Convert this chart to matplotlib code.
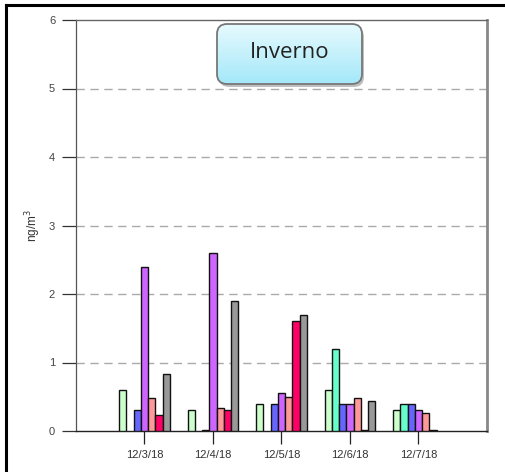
import matplotlib
matplotlib.use('Agg')
import matplotlib.pyplot as plt
from matplotlib.patches import FancyBboxPatch
from matplotlib.lines import Line2D
import numpy as np

plt.rcParams['font.family'] = 'Liberation Sans'

W, H = 506, 472

dates = ['12/3/18', '12/4/18', '12/5/18', '12/6/18', '12/7/18']
nan = np.nan
# one list per series (no legend in the original)
s_lightgreen = [0.6, 0.3, 0.4, 0.6, 0.3]
s_aqua = [nan, nan, nan, 1.2, 0.4]
s_blue = [0.3, 0.01, 0.4, 0.4, 0.4]
s_purple = [2.4, 2.6, 0.55, 0.4, 0.3]
s_salmon = [0.48, 0.33, 0.5, 0.48, 0.26]
s_crimson = [0.23, 0.3, 1.6, 0.01, 0.01]
s_gray = [0.83, 1.9, 1.7, 0.44, nan]

series = [s_lightgreen, s_aqua, s_blue, s_purple, s_salmon, s_crimson, s_gray]
colors = ['#ccffcc', '#66ffcc', '#6666ff', '#cc66ff', '#ff9999', '#ff0066', '#999999']

fig = plt.figure(figsize=(W / 100, H / 100), dpi=100)
ax = fig.add_axes([76 / W, 1 - 431 / H, 411 / W, 411 / H])

x = np.arange(1, len(dates) + 1)
bw = 0.106
for i, (vals, c) in enumerate(zip(series, colors)):
    ax.bar(x + (i - 3) * bw, vals, width=bw, color=c, edgecolor='#111111',
           linewidth=1.0, zorder=3)

ax.set_xlim(0, 6)
ax.set_ylim(0, 6)
ax.set_xticks(x)
ax.set_xticklabels(dates, fontsize=8, color='#333333')
ax.set_yticks(range(7))
ax.set_yticklabels([str(v) for v in range(7)], fontsize=8, color='#444444')
ax.tick_params(axis='y', length=10, width=0.9, color='#333333', pad=5)
ax.tick_params(axis='x', length=9.5, width=0.9, color='#222222', pad=4)

for v in range(1, 6):
    ax.axhline(v, color='#aaaaaa', linestyle=(0, (6, 4)), linewidth=1.0, zorder=1)

ax.spines['left'].set_color('#555555')
ax.spines['left'].set_linewidth(0.9)
ax.spines['bottom'].set_color('#222222')
ax.spines['bottom'].set_linewidth(1.0)
ax.spines['top'].set_color('#666666')
ax.spines['top'].set_linewidth(1.0)
ax.spines['right'].set_color('#888888')
ax.spines['right'].set_linewidth(2.0)

ax.set_ylabel('ng/m$^3$', fontsize=8.5, color='#333333')
ax.yaxis.set_label_coords(-0.08, 0.5)

# title box with gradient fill
bx = fig.add_axes([217 / W, 1 - 84 / H, 145 / W, 60 / H])
bx.set_xlim(0, 145)
bx.set_ylim(0, 60)
bx.axis('off')
shadow = FancyBboxPatch((2, -3), 145, 60, boxstyle='round,pad=0,rounding_size=10',
                        facecolor='#000000', alpha=0.25, edgecolor='none', clip_on=False)
bx.add_patch(shadow)
box = FancyBboxPatch((0, 0), 145, 60, boxstyle='round,pad=0,rounding_size=10',
                     facecolor='none', edgecolor='#777777', linewidth=1.3,
                     clip_on=False, zorder=3)
bx.add_patch(box)
grad = np.linspace(0, 1, 100).reshape(-1, 1)
cmap = matplotlib.colors.LinearSegmentedColormap.from_list('g', ['#a4e8f9', '#e6fafe'])
im = bx.imshow(grad, cmap=cmap, extent=(0, 145, 0, 60), origin='lower',
               aspect='auto', zorder=2)
im.set_clip_path(box)
bx.text(72.5, 31, 'Inverno', ha='center', va='center', fontsize=16,
        family='Open Sans', color='#222222', zorder=4)

# outer table frame
fig.add_artist(Line2D([6 / W, 1], [1 - 5 / H, 1 - 5 / H], color='black', linewidth=2.2))
fig.add_artist(Line2D([6 / W, 6 / W], [0, 1 - 5 / H], color='black', linewidth=2.2))

fig.savefig('out.png', dpi=100)
